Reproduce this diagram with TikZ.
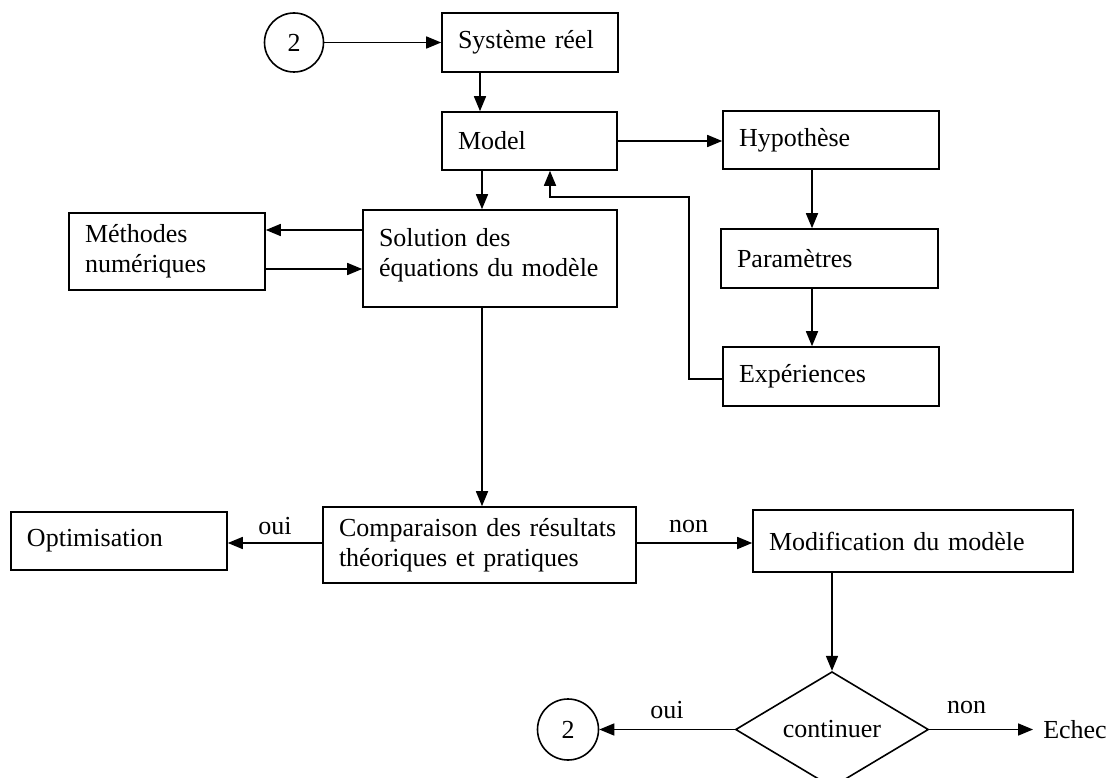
\documentclass[tikz,border=0pt]{standalone}
\usepackage{fontspec}
\setmainfont{Liberation Serif}
\usetikzlibrary{shapes.geometric,arrows.meta,calc}
\begin{document}
\begin{tikzpicture}[x=1pt,y=-1pt,
  every node/.style={font=\fontsize{26}{30}\selectfont},
  box/.style={draw,line width=1.6pt,rectangle,align=left,inner xsep=16pt,inner ysep=0pt},
  circ/.style={draw,line width=1.6pt,circle,minimum size=59pt,inner sep=0pt},
  arr/.style={line width=1.6pt,-{Triangle[length=15pt,width=12pt]}},
  lab/.style={inner sep=0pt}
]
\useasboundingbox[fill=white] (0,0) rectangle (1113,778);

% nodes
\node[circ] (c1) at (294,42.5) {2};
\node[box,text width=144pt,minimum height=59pt] (sys) at (530,42.5) {Système réel};
\node[box,text width=143pt,minimum height=58pt] (model) at (529.5,141) {Model};
\node[box,text width=184pt,minimum height=58pt] (hyp) at (831,140) {Hypothèse};
\node[box,text width=185pt,minimum height=59pt] (param) at (829.5,258.5) {Paramètres};
\node[box,text width=184pt,minimum height=59pt] (exp) at (831,376.5) {Expériences};
\node[box,text width=164pt,minimum height=77pt] (meth) at (167,251.5) {Méthodes\\numériques};
\node[box,text width=222pt,minimum height=97pt] (sol) at (490,258.5) {Solution des\\équations du modèle\\[-18pt]\mbox{}};
\node[box,text width=281pt,minimum height=76pt] (comp) at (479.5,545) {Comparaison des résultats\\théoriques et pratiques};
\node[box,text width=184pt,minimum height=58pt] (opt) at (119,541) {Optimisation};
\node[box,text width=288pt,minimum height=62pt] (modif) at (913,541) {Modification du modèle};
\node[draw,line width=1.6pt,diamond,minimum width=193pt,minimum height=95pt,inner sep=0pt] (dia) at (832,729.5) {continuer};
\node[circ,minimum size=61pt] (c2) at (568,729.5) {2};
\node[inner xsep=10pt,inner ysep=0pt] (echec) at (1075,729.5) {Echec};

% helper coordinates
\coordinate (xa) at (480,0);
\coordinate (xb) at (482,0);
\coordinate (xh) at (812,0);
\coordinate (xf) at (550,0);
\coordinate (fb) at (689,197);
\coordinate (ya) at (0,230);
\coordinate (yb) at (0,269);
\coordinate (yc) at (0,543);

% connectors
\draw[arr] (c1.east) -- (c1.east -| sys.west);
\draw[arr] (sys.south -| xa) -- (model.north -| xa);
\draw[arr] (model.east) -- (model.east -| hyp.west);
\draw[arr] (hyp.south -| xh) -- (param.north -| xh);
\draw[arr] (param.south -| xh) -- (exp.north -| xh);
\draw[arr] (exp.west |- 0,379) -| (fb) -| (model.south -| xf);
\draw[arr] (model.south -| xb) -- (sol.north -| xb);
\draw[arr] (sol.west |- ya) -- (meth.east |- ya);
\draw[arr] (meth.east |- yb) -- (sol.west |- yb);
\draw[arr] (sol.south -| xb) -- (comp.north -| xb);
\draw[arr] (comp.west |- yc) -- node[lab,above=7pt] {oui} (opt.east |- yc);
\draw[arr] (comp.east |- yc) -- node[lab,above=9pt,pos=0.45] {non} (modif.west |- yc);
\draw[arr] (modif.south -| dia.north) -- (dia.north);
\draw[arr] (dia.west) -- node[lab,above=10pt] {oui} (c2.east);
\draw[arr] (dia.east) -- node[lab,above=15pt,pos=0.36] {non} (echec.west);
\end{tikzpicture}
\end{document}
